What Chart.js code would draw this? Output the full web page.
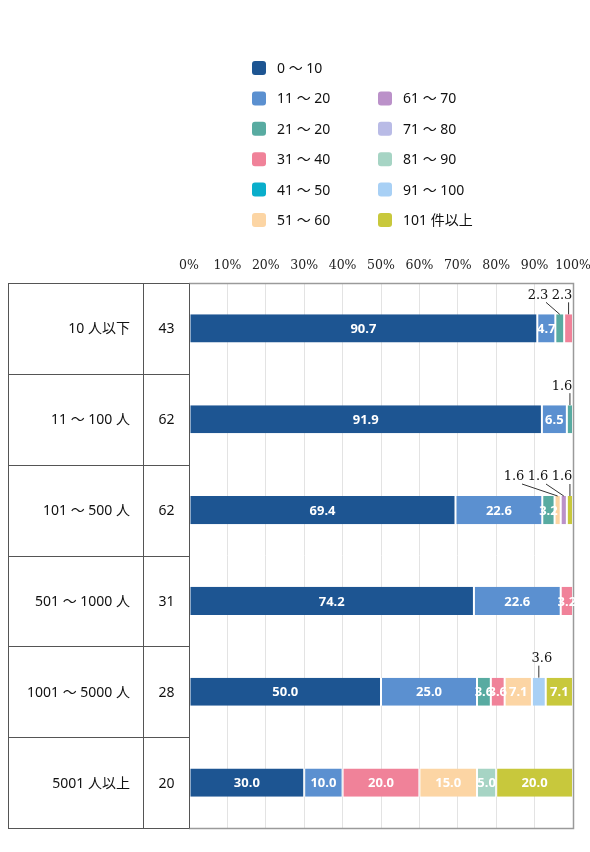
<!DOCTYPE html>
<html><head><meta charset="utf-8">
<script src="https://cdn.jsdelivr.net/npm/chart.js@4/dist/chart.umd.min.js"></script>
<style>html,body{margin:0;padding:0;background:#fff}</style>
</head><body>
<canvas id="c" width="590" height="852"></canvas>
<script>
// ---- data ----
const categories = ['10 人以下', '11 ～ 100 人', '101 ～ 500 人', '501 ～ 1000 人', '1001 ～ 5000 人', '5001 人以上'];
const counts = [43, 62, 62, 31, 28, 20];
const seriesLabels = ['0 ～ 10', '11 ～ 20', '21 ～ 20', '31 ～ 40', '41 ～ 50', '51 ～ 60', '61 ～ 70', '71 ～ 80', '81 ～ 90', '91 ～ 100', '101 件以上'];
const s0_10   = [90.7, 91.9, 69.4, 74.2, 50.0, 30.0];
const s11_20  = [4.7, 6.5, 22.6, 22.6, 25.0, 10.0];
const s21_20  = [2.3, 1.6, 3.2, 0, 3.6, 0];
const s31_40  = [2.3, 0, 0, 3.2, 3.6, 20.0];
const s41_50  = [0, 0, 0, 0, 0, 0];
const s51_60  = [0, 0, 1.6, 0, 7.1, 15.0];
const s61_70  = [0, 0, 1.6, 0, 0, 0];
const s71_80  = [0, 0, 0, 0, 0, 0];
const s81_90  = [0, 0, 0, 0, 0, 5.0];
const s91_100 = [0, 0, 0, 0, 3.6, 0];
const s101    = [0, 0, 1.6, 0, 7.1, 20.0];
const xTicks = [0, 10, 20, 30, 40, 50, 60, 70, 80, 90, 100];

// ---- style ----
const colors = ['#1d5592', '#5b90d0', '#58aba1', '#f08299', '#0aaecb', '#fcd5a4', '#bb91c9', '#b9bbe6', '#a6d4c4', '#a8d0f5', '#c8c83c'];
const SANS = '"Noto Sans","Noto Sans CJK JP",sans-serif';
const SERIF = '"DejaVu Serif",serif';
const allSeries = [s0_10, s11_20, s21_20, s31_40, s41_50, s51_60, s61_70, s71_80, s81_90, s91_100, s101];

const datasets = allSeries.map((d, i) => ({
  label: seriesLabels[i], data: d, backgroundColor: colors[i],
  borderColor: '#ffffff', borderWidth: {left: 1, right: 1, top: 0, bottom: 0}, borderSkipped: false,
  barPercentage: 0.31, categoryPercentage: 1
}));

const decor = {
  id: 'decor',
  afterDraw(chart) {
    const {ctx, chartArea: a, scales: {y}} = chart;
    ctx.save();
    const n = categories.length;
    const bounds = [a.top];
    for (let i = 0; i < n - 1; i++) bounds.push((y.getPixelForValue(i) + y.getPixelForValue(i + 1)) / 2);
    bounds.push(a.bottom);
    const px = v => Math.round(v) + 0.5;
    // plot box
    ctx.strokeStyle = '#9a9a9a'; ctx.lineWidth = 1.5;
    ctx.beginPath();
    ctx.moveTo(a.left, px(a.top)); ctx.lineTo(px(a.right), px(a.top));
    ctx.lineTo(px(a.right), px(a.bottom)); ctx.lineTo(a.left, px(a.bottom));
    ctx.stroke();
    // table
    const tl = 8, tm = 143;
    ctx.strokeStyle = '#555'; ctx.lineWidth = 1;
    ctx.beginPath();
    bounds.forEach(b => { ctx.moveTo(tl, px(b)); ctx.lineTo(a.left, px(b)); });
    [tl, tm, a.left].forEach(x => { ctx.moveTo(px(x), px(a.top)); ctx.lineTo(px(x), px(a.bottom)); });
    ctx.stroke();
    ctx.fillStyle = '#111';
    ctx.font = '14px ' + SANS; ctx.textBaseline = 'middle';
    categories.forEach((c, i) => {
      const yc = y.getPixelForValue(i) + 1;
      ctx.textAlign = 'right'; ctx.fillText(c, 130, yc);
      ctx.textAlign = 'center'; ctx.fillText(String(counts[i]), (tm + a.left) / 2 + 0.5, yc);
    });
    // legend
    ctx.textAlign = 'left';
    ctx.font = '14px ' + SANS;
    seriesLabels.forEach((l, i) => {
      const col = i < 6 ? 0 : 1;
      const row = i < 6 ? i : i - 5;
      const x = col === 0 ? 252 : 378;
      const yc = 68 + row * 30.4;
      ctx.fillStyle = colors[i];
      ctx.beginPath(); ctx.roundRect(x, yc - 7, 14, 14, 3); ctx.fill();
      ctx.fillStyle = '#111';
      ctx.fillText(l, x + 25, yc + 1);
    });
    // data labels
    for (let r = 0; r < n; r++) {
      const outs = [];
      chart.data.datasets.forEach((ds, d) => {
        const v = ds.data[r];
        if (!v) return;
        const el = chart.getDatasetMeta(d).data[r];
        const p = el.getProps(['x', 'y', 'base', 'height'], true);
        const cx = (p.x + p.base) / 2;
        const top = p.y - p.height / 2;
        const txt = v.toFixed(1);
        if (v < 3 || d === 9) { outs.push({cx, top, txt}); return; }
        ctx.fillStyle = '#fff'; ctx.font = 'bold 13px ' + SANS; ctx.textAlign = 'center';
        ctx.fillText(txt, cx, p.y + 1);
      });
      if (outs.length) {
        outs.sort((u, w) => u.cx - w.cx);
        let lx = Math.min(outs[outs.length - 1].cx + 3, a.right - 11);
        for (let k = outs.length - 1; k >= 0; k--) {
          const o = outs[k];
          o.lx = lx; lx -= 24;
        }
        outs.forEach(o => {
          ctx.fillStyle = '#111'; ctx.font = '13px ' + SERIF; ctx.textAlign = 'center';
          ctx.fillText(o.txt, o.lx, o.top - 19);
          const sx = o.lx + Math.max(-8, Math.min(8, o.cx - o.lx));
          ctx.strokeStyle = '#333'; ctx.lineWidth = 1;
          ctx.beginPath(); ctx.moveTo(sx, o.top - 12); ctx.lineTo(o.cx, o.top); ctx.stroke();
        });
      }
    }
    ctx.restore();
  }
};

new Chart(document.getElementById('c'), {
  type: 'bar',
  data: {labels: categories, datasets},
  options: {
    indexAxis: 'y', responsive: false, animation: false,
    layout: {padding: {top: 253, left: 189, right: 17, bottom: 24}},
    plugins: {legend: {display: false}, tooltip: {enabled: false}},
    scales: {
      x: {
        stacked: true, min: 0, max: 100, position: 'top',
        afterBuildTicks: s => { s.ticks = xTicks.map(v => ({value: v})); },
        afterFit: s => { s.height = 30; s.paddingLeft = 0; s.paddingRight = 0; },
        ticks: {callback: v => v + '%', font: {family: SERIF, size: 12.5}, color: '#222', padding: 10, maxRotation: 0, autoSkip: false},
        grid: {color: '#e3e3e3', drawTicks: false},
        border: {display: false}
      },
      y: {stacked: true, display: false, grid: {display: false}}
    }
  },
  plugins: [decor]
});
</script>
</body></html>
